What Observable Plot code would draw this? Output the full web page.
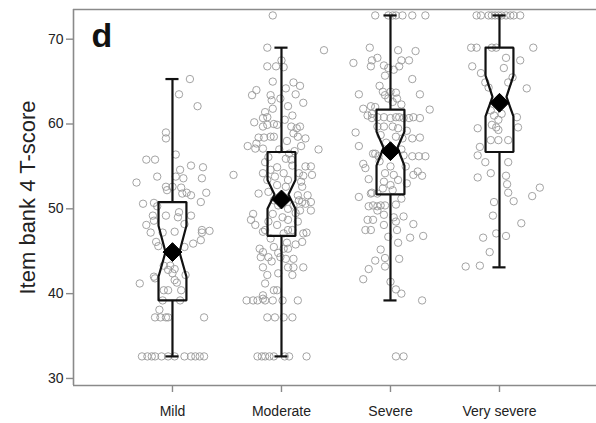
<!DOCTYPE html>
<html><head><meta charset="utf-8">
<script src="https://cdn.jsdelivr.net/npm/d3@7"></script>
<script src="https://cdn.jsdelivr.net/npm/@observablehq/plot@0.6"></script>
<style>body{margin:0;background:#fff;} #chart svg{display:block;}</style>
</head><body><div id="chart"></div>
<script>
const categories = ["Mild", "Moderate", "Severe", "Very severe"];
const yTicks = [30, 40, 50, 60, 70];
const yTitle = "Item bank 4 T-score";
const panelLabel = "d";

// box statistics per category
const whiskerLow  = [32.6, 32.6, 39.2, 43.1];
const q1          = [39.2, 46.8, 51.7, 56.7];
const notchLow    = [42.0, 50.0, 55.1, 60.9];
const median      = [44.9, 51.7, 57.2, 63.2];
const notchHigh   = [48.0, 53.4, 59.1, 65.7];
const q3          = [50.8, 56.7, 61.7, 69.0];
const whiskerHigh = [65.3, 69.0, 72.8, 72.8];
const mean        = [44.9, 51.1, 56.8, 62.5];

// individual scores: [T-score, horizontal jitter in category units]
const mildScores = [
 [65.3,.16],[63.5,.06],[62.1,.23],[59.0,-.06],[58.3,-.06],[55.8,-.24],[55.8,-.16],[56.4,.03],[55.1,.17],[54.9,.28],
 [54.6,.07],[53.6,.10],[53.8,-.14],[53.6,.27],[53.1,-.33],[53.8,.03],[52.6,0],[52.6,-.06],[52.2,-.05],[52.5,.08],
 [51.8,.09],[51.9,.13],[51.6,.17],[51.9,.31],[50.6,-.27],[50.7,-.17],[50.3,-.14],[50.8,.26],[49.6,.06],[49.0,.05],
 [49.2,.17],[49.2,-.18],[48.6,-.17],[49.2,-.06],[48.1,-.24],[47.2,-.2],[48.2,.11],[47.2,-.09],[47.3,.02],[47.2,.27],
 [47.4,.34],[46.3,.26],[45.9,.19],[46.1,-.15],[45.6,-.13],[45.5,.11],[43.3,-.08],[43.3,-.02],[42.8,-.04],[42.9,.02],
 [42.4,0],[41.6,.02],[41.3,.04],[40.4,.08],[42.0,-.17],[41.8,-.16],[42.2,.12],[41.2,-.3],[40.4,-.08],[40.4,-.04],
 [39.2,-.09],[39.2,.07],[38.1,-.12],[37.2,-.16],[37.2,-.11],[37.2,-.06],[37.2,-.04],[37.2,.29],[47.5,.27],
 [32.6,-.28],[32.6,-.23],[32.6,-.19],[32.6,-.16],[32.6,-.1],[32.6,-.04],[32.6,.02],[32.6,.11],[32.6,.17],[32.6,.21],[32.6,.25],[32.6,.29]
];
const moderateScores = [
 [72.8,-.08],[68.7,.39],[69.0,-.13],[66.8,-.13],[66.8,-.05],[66.7,.02],[67.5,0],[65.0,-.08],[64.2,.04],[64.9,.11],
 [64.5,.17],[63.5,.13],[63.4,-.27],[64.0,-.23],[63.4,-.1],[62.8,-.09],[63.0,-.01],[62.1,.06],[61.8,-.08],[61.4,-.15],
 [60.8,-.13],[60.7,-.17],[59.7,-.17],[59.9,-.13],[60.0,-.07],[59.9,-.04],[59.7,.09],[59.5,.14],[59.7,.17],[58.9,.11],
 [58.5,.15],[58.3,.22],[57.4,.18],[57.0,.34],[57.4,-.31],[57.1,-.24],[58.4,-.21],[58.4,-.16],[58.5,-.1],[58.5,-.07],
 [57.7,-.23],[57.1,-.17],[54.0,-.44],[55.0,.27],[54.0,.28],[55.0,.22],[53.9,.2],[54.2,.16],[53.2,.18],[52.6,.19],
 [51.6,.24],[50.8,.27],[49.8,.27],[50.8,.19],[49.8,.17],[51.8,-.21],[54.2,-.17],[53.4,-.13],[54.6,-.1],[53.8,-.06],
 [52.8,-.04],[49.4,-.26],[48.7,-.28],[48.1,-.24],[47.3,-.17],[47.5,-.15],[47.1,.2],[47.2,.23],[46.1,.19],[45.3,-.2],
 [44.9,-.17],[44.3,-.19],[44.3,-.12],[45.5,-.07],[45.3,.02],[45.3,.06],[44.3,-.01],[44.1,.04],[44.1,.11],[43.1,.11],
 [43.1,.2],[43.1,-.17],[42.2,-.13],[42.4,-.03],[43.1,.06],[42.2,.1],[41.2,-.15],[40.4,-.07],[40.4,-.04],[39.8,-.17],
 [39.4,-.17],[39.2,-.32],[39.2,-.26],[39.2,-.22],[39.2,-.15],[39.2,-.08],[39.2,.01],[39.2,.15],
 [37.2,-.13],[37.2,-.06],[37.2,.02],[37.2,.1],
 [32.6,-.22],[32.6,-.18],[32.6,-.15],[32.6,-.11],[32.6,-.07],[32.6,.03],[32.6,.07],[32.6,.23],
 [56.1,-.12],[55.9,.04],[55.8,.09],[55.1,.1],[54.9,-.04],[54.2,.02],[53.4,.06],[52.6,.04],[51.0,-.07],[50.4,-.03],
 [50.0,.06],[50.4,.11],[49.4,-.08],[49.0,.01],[48.7,.06],[48.5,-.12],[48.1,-.04],[47.5,.06],[47.5,.1],[47.1,.02],
 [49.5,.13],[48.5,.15],[51.6,.15],[51.0,.16],[57.0,-.02],[56.5,.07],[60.5,.03],[61.0,.1],[62.5,.2],[58.0,.05],
 [56.8,.12],[46.5,-.1],[45.8,.13],[44.8,-.03],[46.0,.05],[43.8,-.09],[55.5,-.15],[52.0,-.12],[50.6,.22],[60.2,-.25]
];
const severeScores = [
 [72.8,-.14],[72.8,-.02],[72.8,.02],[72.8,.05],[72.8,.11],[72.8,.2],[72.8,.32],[69.0,-.19],[67.2,-.34],[67.5,-.17],
 [67.8,-.12],[66.8,-.18],[63.5,-.29],[61.8,-.25],[61.0,-.21],[62.0,-.14],[60.7,-.17],[59.0,-.32],[57.4,-.29],[56.5,-.14],
 [55.3,-.25],[54.8,-.23],[53.5,-.2],[51.4,-.29],[51.8,-.18],[50.3,-.2],[50.3,-.12],[48.7,-.21],[47.5,-.23],[47.5,-.18],
 [43.9,-.14],[42.9,-.2],[41.7,-.25],[68.7,.07],[68.6,.23],[66.9,-.06],[66.6,-.02],[66.4,.03],[66.8,.08],[67.5,.1],
 [67.5,.17],[65.7,-.05],[65.3,.2],[63.8,-.07],[63.4,-.05],[63.8,0],[63.7,.05],[63.0,-.02],[63.0,.06],[62.6,.02],
 [63.5,.27],[62.1,-.18],[61.2,-.17],[60.8,-.12],[60.8,-.06],[60.7,0],[60.8,.05],[60.8,.08],[60.7,.12],[60.7,.17],
 [60.8,.21],[60.7,.27],[61.7,.36],[59.7,-.12],[59.7,-.06],[59.7,.02],[59.5,.07],[58.7,-.09],[58.5,.05],[58.3,.11],
 [58.3,.2],[58.4,.27],[56.5,-.16],[56.2,-.11],[56.3,.12],[56.2,.2],[56.2,.26],[56.2,.32],[55.0,.14],[54.4,.25],
 [53.9,.29],[54.0,.21],[55.0,0],[54.2,-.05],[54.0,.03],[53.2,-.06],[52.8,0],[53.4,.07],[52.4,-.07],[52.2,.02],
 [51.9,-.17],[51.8,-.12],[50.4,-.16],[50.4,-.09],[50.4,-.05],[50.5,.05],[48.7,-.16],[49.3,-.06],[49.0,.03],[48.5,.05],
 [49.1,.12],[48.2,.21],[48.1,-.06],[47.5,.06],[46.7,-.02],[46.6,.18],[46.8,.3],[46.0,.07],[44.2,-.05],[43.2,-.05],
 [44.1,.08],[41.4,0],[40.5,.05],[40.0,.1],[39.2,.29],[32.6,.05],[32.6,.12],
 [64.5,-.1],[62.3,.1],[57.8,-.04],[57.0,.1],[55.6,-.1],[53.0,.15],[51.2,.1],[49.8,-.12],[45.2,-.09],[59.2,.15]
];
const verySevereScores = [
 [72.8,-.21],[72.8,-.17],[72.8,-.1],[72.8,-.07],[72.8,-.04],[72.8,-.01],[72.8,.02],[72.8,.06],[72.8,.1],[72.8,.13],[72.8,.19],
 [69.0,-.26],[69.0,-.21],[69.0,-.07],[69.0,-.03],[69.0,.31],[66.8,-.25],[67.8,.06],[66.6,.04],[67.5,.19],[66.0,-.17],
 [64.9,-.13],[64.3,-.1],[64.9,.08],[65.5,.12],[64.2,.25],[61.6,-.08],[61.0,-.05],[61.2,.02],[60.5,-.01],[59.9,-.07],
 [59.6,-.03],[59.3,-.01],[58.1,-.08],[58.1,-.01],[58.1,.08],[60.8,.16],[59.6,.17],[59.5,-.2],[57.3,-.18],[56.3,-.2],
 [55.5,-.13],[54.2,-.08],[53.7,-.2],[55.5,.08],[53.9,.06],[52.9,.07],[51.9,.08],[50.9,.13],[52.5,.37],[51.5,.3],
 [50.8,-.05],[49.2,-.06],[48.3,.2],[47.1,-.03],[46.8,.06],[46.6,-.15],[44.9,-.09],[43.2,-.31],[43.3,-.18]
];
const scoreGroups = [mildScores, moderateScores, severeScores, verySevereScores];

const xDomain = [0.092, 4.89];
const yDomain = [29.17, 73.5];
const BOX_HALF = 0.128, NOTCH_HALF = 0.064, CAP_HALF = 0.06;
const idx = categories.map((c, i) => i);

const points = scoreGroups.flatMap((g, i) => g.map(([v, j]) => ({x: i + 1 + j, y: v})));
const boxes = idx.flatMap(i => {
  const x = i + 1, w = BOX_HALF, n = NOTCH_HALF;
  return [[x-w,q3[i]],[x+w,q3[i]],[x+w,notchHigh[i]],[x+n,median[i]],[x+w,notchLow[i]],[x+w,q1[i]],
          [x-w,q1[i]],[x-w,notchLow[i]],[x-n,median[i]],[x-w,notchHigh[i]],[x-w,q3[i]]]
    .map(([px, py]) => ({x: px, y: py, c: categories[i]}));
});

const frameColor = "#8a8a8a";
const chart = Plot.plot({
  width: 596, height: 423,
  marginLeft: 73, marginRight: 0, marginTop: 9, marginBottom: 38,
  style: {fontFamily: "'Liberation Sans', Arial, Helvetica, sans-serif", background: "#fff"},
  x: {domain: xDomain},
  y: {domain: yDomain},
  marks: [
    Plot.dot(points, {x: "x", y: "y", r: 3.7, stroke: "#999", strokeWidth: 0.9, fill: "none"}),
    Plot.ruleX(idx, {x: i => i + 1, y1: i => q3[i], y2: i => whiskerHigh[i], stroke: "#111", strokeWidth: 2.2}),
    Plot.ruleX(idx, {x: i => i + 1, y1: i => q1[i], y2: i => whiskerLow[i], stroke: "#111", strokeWidth: 2.2}),
    Plot.ruleY(idx, {y: i => whiskerHigh[i], x1: i => i + 1 - CAP_HALF, x2: i => i + 1 + CAP_HALF, stroke: "#111", strokeWidth: 2.2}),
    Plot.ruleY(idx, {y: i => whiskerLow[i], x1: i => i + 1 - CAP_HALF, x2: i => i + 1 + CAP_HALF, stroke: "#111", strokeWidth: 2.2}),
    Plot.line(boxes, {x: "x", y: "y", z: "c", stroke: "#111", strokeWidth: 2.2, strokeLinejoin: "miter"}),
    Plot.dot(idx, {x: i => i + 1, y: i => mean[i], symbol: "diamond2", r: 8.5, fill: "#000", stroke: "#000", strokeWidth: 1}),
    Plot.ruleX([xDomain[0]], {stroke: frameColor, strokeWidth: 1.6}),
    Plot.ruleY(yDomain, {stroke: frameColor, strokeWidth: 1.6}),
    Plot.axisY(yTicks, {tickSize: 7, tickPadding: 3, fontSize: 14, stroke: frameColor, fill: "#222", label: null, strokeWidth: 1.4}),
    Plot.axisX([1, 2, 3, 4], {tickFormat: d => categories[d - 1], tickSize: 7, tickPadding: 14, fontSize: 14, stroke: frameColor, fill: "#222", label: null, strokeWidth: 1.4}),
    Plot.text([yTitle], {text: d => d, frameAnchor: "left", textAnchor: "middle", lineAnchor: "middle", rotate: -90, dx: -46, fontSize: 22, fill: "#222"}),
    Plot.text([panelLabel], {text: d => d, frameAnchor: "top-left", textAnchor: "start", lineAnchor: "top", dx: 18, dy: 13, fontSize: 34, fontWeight: "bold", fill: "#111"})
  ]
});
document.getElementById("chart").appendChild(chart);
</script>
</body></html>
